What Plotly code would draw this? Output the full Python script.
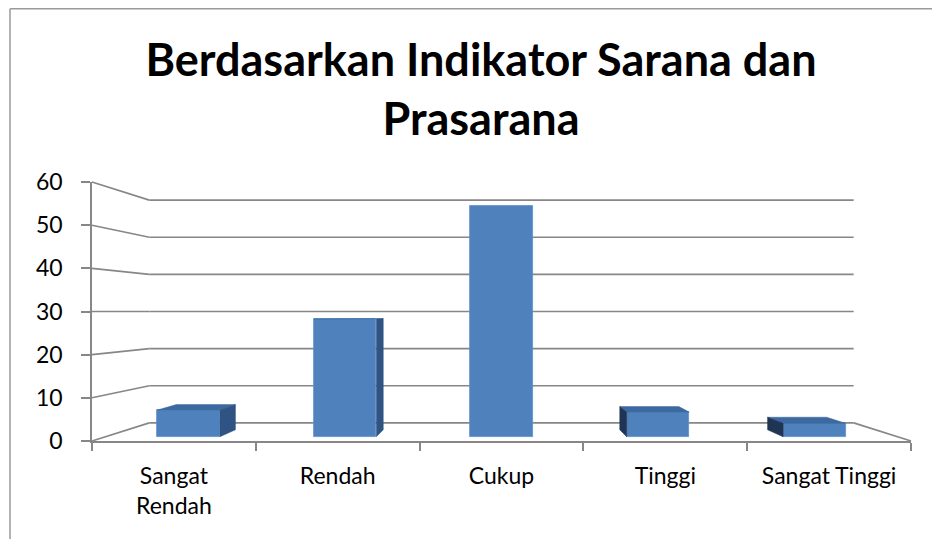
import plotly.graph_objects as go

# ---- data ----
categories = ["Sangat Rendah", "Rendah", "Cukup", "Tinggi", "Sangat Tinggi"]
tick_labels = ["Sangat<br>Rendah", "Rendah", "Cukup", "Tinggi", "Sangat Tinggi"]
values = [6.4, 28.2, 55.3, 5.9, 3.2]
y_ticks = [0, 10, 20, 30, 40, 50, 60]
title_text = "Berdasarkan Indikator Sarana dan<br>Prasarana"

# ---- layout / pseudo-3D geometry ----
W, H = 940, 539
OFF = 8  # page body margin
PL, PT, PW, PH = 92 - OFF, 182 - OFF, 819, 259   # plot area in figure px
L, T = PL, PT
R, B = W - PL - PW, H - PT - PH
X_LO, X_HI = -0.5, len(categories) - 0.5
Y_LO, Y_HI = 0, 60
VP = (2.0, 30.0)      # vanishing point in front-plane data units
WALL = 0.14           # depth of back wall
FX, FY = 0.045, 0.033 # depth of bar front faces
DEPTH = 0.055         # bar depth
BAR_W = 0.40

GRID = "#878787"
FRONT = "#4F81BD"
SIDE_R = "#2F5383"
SIDE_L = "#1F3553"
TOP = "#3C69A0"
FONT = "Lato"


def toward(x, y, f):
    return x + f * (VP[0] - x), y + f * (VP[1] - y)


def px(x):
    return (x - X_LO) / (X_HI - X_LO)


def py(y):
    return (y - Y_LO) / (Y_HI - Y_LO)


shapes = []
line_style = dict(color=GRID, width=1.6)
for v in y_ticks:
    bx0, bv = toward(X_LO, v, WALL)
    bx1, _ = toward(X_HI, v, WALL)
    shapes.append(dict(type="line", xref="paper", yref="paper",
                       x0=px(bx0), y0=py(bv), x1=px(bx1), y1=py(bv),
                       line=line_style, layer="below"))
    shapes.append(dict(type="line", xref="paper", yref="paper",
                       x0=px(X_LO), y0=py(v), x1=px(bx0), y1=py(bv),
                       line=line_style, layer="below"))
rx, r0 = toward(X_HI, 0, WALL)
shapes.append(dict(type="line", xref="paper", yref="paper",
                   x0=px(X_HI), y0=py(0), x1=px(rx), y1=py(r0),
                   line=line_style, layer="below"))

# chart border (top and left edges visible), in figure pixels
def fx(p): return (p - PL) / PW
def fy(p): return (PT + PH - p) / PH
border = dict(color="#9a9a9a", width=1.5)
shapes.append(dict(type="line", xref="paper", yref="paper",
                   x0=fx(2), y0=fy(0.8), x1=fx(W + 5), y1=fy(0.8), line=border))
shapes.append(dict(type="line", xref="paper", yref="paper",
                   x0=fx(2), y0=fy(0.8), x1=fx(2), y1=fy(H + 20), line=border))

fig = go.Figure()

# invisible trace so the front-plane axes get drawn
fig.add_trace(go.Scatter(x=list(range(len(categories))), y=[0] * len(categories),
                         mode="markers", marker=dict(opacity=0),
                         hoverinfo="skip", showlegend=False))

# 3D faces of bars (sides and tops), computed from the data values
for i, v in enumerate(values):
    x0, x1 = i - BAR_W / 2, i + BAR_W / 2
    faces = []
    if v < VP[1]:
        a = toward(x0, v, DEPTH)
        b = toward(x1, v, DEPTH)
        faces.append(([x0, x1, b[0], a[0], x0], [v, v, b[1], a[1], v], TOP))
    if x1 < VP[0]:
        a = toward(x1, 0, DEPTH)
        b = toward(x1, v, DEPTH)
        faces.append(([x1, a[0], b[0], x1, x1], [0, a[1], b[1], v, 0], SIDE_R))
    if x0 > VP[0]:
        a = toward(x0, 0, DEPTH)
        b = toward(x0, v, DEPTH)
        faces.append(([x0, a[0], b[0], x0, x0], [0, a[1], b[1], v, 0], SIDE_L))
    for fx_, fy_, col in faces:
        fig.add_trace(go.Scatter(x=fx_, y=fy_, xaxis="x2", yaxis="y2",
                                 mode="lines", fill="toself", fillcolor=col,
                                 line=dict(width=0.5, color=col),
                                 hoverinfo="skip", showlegend=False))

fig.add_trace(go.Bar(x=list(range(len(categories))), y=values, width=BAR_W,
                     xaxis="x2", yaxis="y2", marker=dict(color=FRONT,
                     line=dict(color="#5b8fcb", width=0.8)),
                     hovertext=categories, showlegend=False))

x2_range = [(X_LO - FX * VP[0]) / (1 - FX), (X_HI - FX * VP[0]) / (1 - FX)]
y2_range = [(Y_LO - FY * VP[1]) / (1 - FY), (Y_HI - FY * VP[1]) / (1 - FY)]

fig.update_layout(
    width=W, height=H,
    margin=dict(l=L, r=R, t=T, b=B),
    paper_bgcolor="white", plot_bgcolor="white",
    shapes=shapes,
    title=dict(text=title_text, x=(481 - OFF) / W, xanchor="center", xref="container",
               y=1 - (76 - OFF) / H, yanchor="middle", yref="container",
               font=dict(family=FONT, size=45, color="black", weight="bold")),
    xaxis=dict(range=[X_LO, X_HI], tickvals=list(range(len(categories))),
               ticktext=tick_labels, ticks="", showgrid=False, zeroline=False,
               showline=True, linecolor=GRID, linewidth=1.6,
               tickfont=dict(family=FONT, size=23, color="black"),
               ticklabelstandoff=14,
               minor=dict(tickvals=[k - 0.5 for k in range(len(categories) + 1)],
                          ticks="outside", ticklen=8, tickcolor=GRID, tickwidth=1.6,
                          showgrid=False)),
    yaxis=dict(range=[Y_LO, Y_HI], tickvals=y_ticks, ticks="outside", ticklen=9,
               tickcolor=GRID, tickwidth=1.6, showgrid=False, zeroline=False,
               showline=True, linecolor=GRID, linewidth=1.6,
               tickfont=dict(family=FONT, size=23, color="black"),
               ticklabelstandoff=14),
    xaxis2=dict(range=x2_range, overlaying="x", visible=False),
    yaxis2=dict(range=y2_range, overlaying="y", visible=False),
    bargap=0,
)

fig.write_html("out.html")
